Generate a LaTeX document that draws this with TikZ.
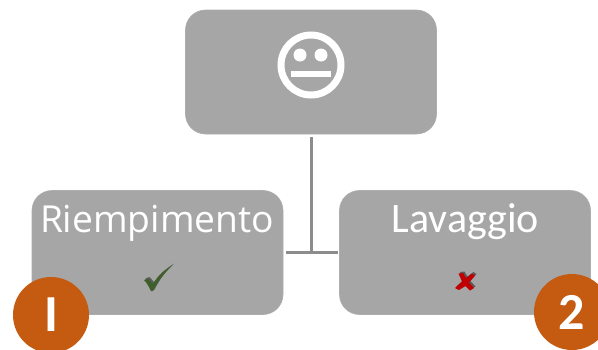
\documentclass[tikz,border=0pt]{standalone}
\usepackage{fontspec}
\setmainfont{Carlito}
\newfontfamily\opensans{Open Sans}
\begin{document}
\begin{tikzpicture}[x=1pt,y=-1pt,
  boxnode/.style={draw=boxedge,line width=0.6pt,fill=boxgray,rounded corners=20pt,minimum width=251pt,minimum height=124pt,inner sep=0pt,outer sep=0pt},
  badge/.style={circle,fill=badgeorange,minimum size=76pt,inner sep=0pt,text=white,font=\fontsize{52}{52}\selectfont\bfseries},
  link/.style={draw=linkgray,line width=3pt},
  label/.style={text=white,inner sep=0pt,anchor=base}]
\definecolor{boxgray}{HTML}{A6A6A6}
\definecolor{boxedge}{HTML}{ADADAD}
\definecolor{linkgray}{HTML}{8C8C8C}
\definecolor{badgeorange}{HTML}{C55A11}
\definecolor{okgreen}{HTML}{3F5F2A}
\definecolor{badred}{HTML}{C00000}
\useasboundingbox (0,0) rectangle (598,349);
\clip (0,0) rectangle (598,349);
\node[boxnode] (top) at (311,72) {};
\node[boxnode] (left) at (157.5,252.5) {};
\node[boxnode] (right) at (465,252.5) {};
\coordinate (join) at (top.south |- left.east);
\draw[link,shorten <=3pt] (top.south) -- (join);
\draw[link,shorten <=3pt,shorten >=2pt] (left.east) -- (right.west);
% face
\node[circle,draw=white,line width=7pt,minimum size=60pt,inner sep=0pt] (face) at (311,65) {};
\node[circle,fill=white,minimum size=13pt,inner sep=0pt] (eyeL) at (300,55) {};
\node[circle,fill=white,minimum size=13pt,inner sep=0pt] (eyeR) at (321,55) {};
\node[fill=white,minimum width=40pt,minimum height=6pt,inner sep=0pt] (mouth) at (311,74) {};
% labels
\node[label,font=\opensans\fontsize{37.2}{37.2}\selectfont] (t1) at (157,232) {Riempimento};
\node[label,font=\fontsize{42}{42}\selectfont] (t2) at (465.5,232) {Lavaggio};
% check mark
\fill[black!45!boxgray,xshift=1.5pt,yshift=1.5pt] (144,280) -- (148,278.5) -- (153,284) .. controls (158,275) and (165,270) .. (172.7,265) .. controls (164,273) and (158,281) .. (153,291) -- (151,291) .. controls (149,287) and (147,283) .. (144,280) -- cycle;
\fill[okgreen] (144,280) -- (148,278.5) -- (153,284) .. controls (158,275) and (165,270) .. (172.7,265) .. controls (164,273) and (158,281) .. (153,291) -- (151,291) .. controls (149,287) and (147,283) .. (144,280) -- cycle;
% cross
\fill[black!45!boxgray,xshift=1.5pt,yshift=1.5pt] (458.5,273.5) -- (463,273) -- (466,278) -- (472,273.5) -- (475,275.5) -- (469,282.5) -- (474,288) -- (470,290.5) -- (465.5,286) -- (459,290) -- (455,288) -- (462,281.5) -- cycle;
\fill[badred] (458.5,273.5) -- (463,273) -- (466,278) -- (472,273.5) -- (475,275.5) -- (469,282.5) -- (474,288) -- (470,290.5) -- (465.5,286) -- (459,290) -- (455,288) -- (462,281.5) -- cycle;
% badges
\node[badge] (b1) at (51,315) {I};
\node[badge] (b2) at (572,312) {2};
\end{tikzpicture}
\end{document}
